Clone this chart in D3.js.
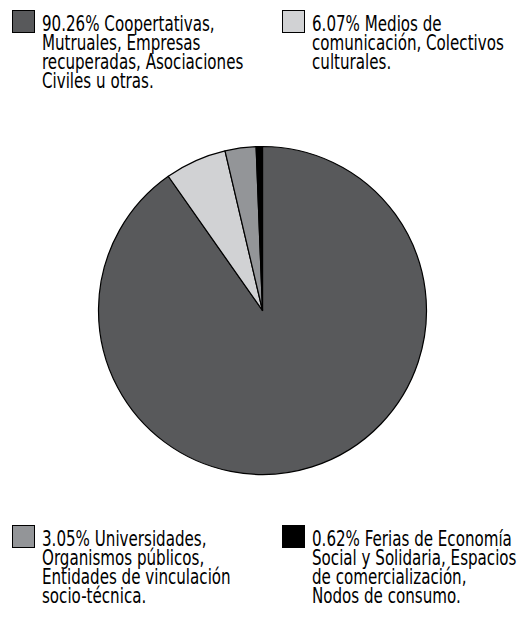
<!DOCTYPE html>
<html>
<head>
<meta charset="utf-8">
<script src="https://cdn.jsdelivr.net/npm/d3@7"></script>
<style>
  body { margin: 0; background: #fff; }
  text { font-family: "DejaVu Sans Condensed", "DejaVu Sans", sans-serif; }
</style>
</head>
<body>
<div id="vis"></div>
<script>
const shares = [90.26, 6.07, 3.05, 0.62];
const colors = ["#58595b", "#d1d2d4", "#939598", "#000000"];
const labels = [
  ["90.26% Coopertativas,", "Mutruales, Empresas", "recuperadas, Asociaciones", "Civiles u otras."],
  ["6.07% Medios de", "comunicación, Colectivos", "culturales."],
  ["3.05% Universidades,", "Organismos públicos,", "Entidades de vinculación", "socio-técnica."],
  ["0.62% Ferias de Economía", "Social y Solidaria, Espacios", "de comercialización,", "Nodos de consumo."]
];

const width = 529, height = 618;
const cx = 262.5, cy = 310.5, radius = 164;

const svg = d3.select("#vis")
  .append("svg")
  .attr("width", width)
  .attr("height", height);

const pie = d3.pie().sort(null).value(d => d);
const arc = d3.arc().innerRadius(0).outerRadius(radius);

svg.append("g")
  .attr("transform", `translate(${cx}, ${cy})`)
  .selectAll("path")
  .data(pie(shares))
  .join("path")
  .attr("d", arc)
  .attr("fill", (d, i) => colors[i])
  .attr("stroke", "#000")
  .attr("stroke-width", 1.2)
  .attr("stroke-linejoin", "round");

// legend blocks: top-left, top-right, bottom-left, bottom-right
const legendPos = [[12, 10], [282, 10], [12, 525], [282, 525]];

labels.forEach((lines, i) => {
  const [lx, ly] = legendPos[i];
  const g = svg.append("g").attr("transform", `translate(${lx}, ${ly})`);

  g.append("rect")
    .attr("x", 0.5)
    .attr("y", 0.5)
    .attr("width", 22)
    .attr("height", 22)
    .attr("fill", colors[i])
    .attr("stroke", "#000")
    .attr("stroke-width", 1);

  // condensed look: squeeze the text horizontally
  g.selectAll("text")
    .data(lines)
    .join("text")
    .attr("transform", (d, j) => `translate(30, ${20.5 + j * 19}) scale(0.8, 1)`)
    .attr("font-size", "21px")
    .attr("fill", "#000")
    .text(d => d);
});
</script>
</body>
</html>
